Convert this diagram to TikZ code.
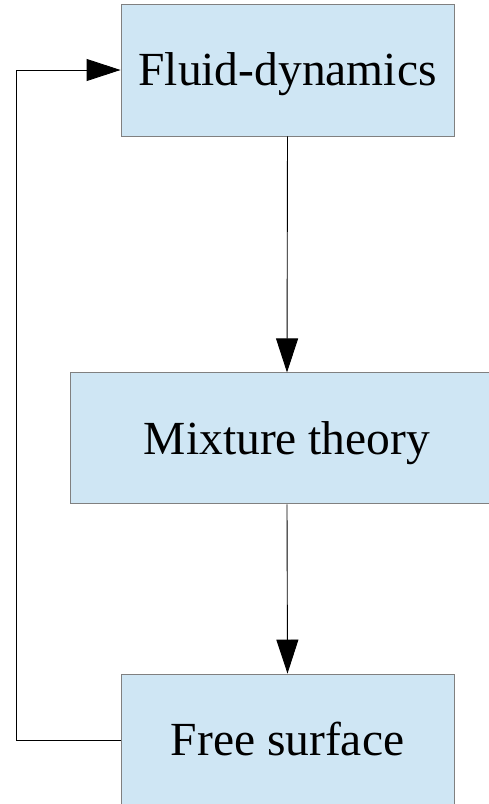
\documentclass[tikz,border=0pt]{standalone}
\usepackage{fontspec}
\setmainfont{Liberation Serif}
\usetikzlibrary{arrows.meta}
\definecolor{boxfill}{HTML}{CFE6F4}
\definecolor{boxline}{HTML}{808080}
\begin{document}
\begin{tikzpicture}[x=1pt,y=-1pt,
  blk/.style={draw=boxline, line width=0.9pt, fill=boxfill, inner sep=0pt,
    font=\fontsize{47.5}{50}\selectfont, text height=31.5pt, text depth=0pt},
  conn/.style={draw=black, line width=0.9pt, -{Triangle[length=34pt,width=22pt]}}]
\useasboundingbox (0,0) rectangle (489,804);
\clip (0,0) rectangle (489,804);
\node[blk, minimum width=333pt, minimum height=132pt] (fluid) at (287.5,70) {Fluid-dynamics};
\node[blk, minimum width=434pt, minimum height=131pt] (mix) at (287,438.4) {Mixture theory};
\node[blk, minimum width=333pt, minimum height=132pt] (free) at (287.5,740) {Free surface};
\coordinate (lx) at (16,400);
\draw[conn] (fluid.south) -- (mix.north);
\draw[conn] (mix.south) -- (free.north);
\draw[conn] (free.west) -- (free.west -| lx) |- (fluid.west);
\end{tikzpicture}
\end{document}
